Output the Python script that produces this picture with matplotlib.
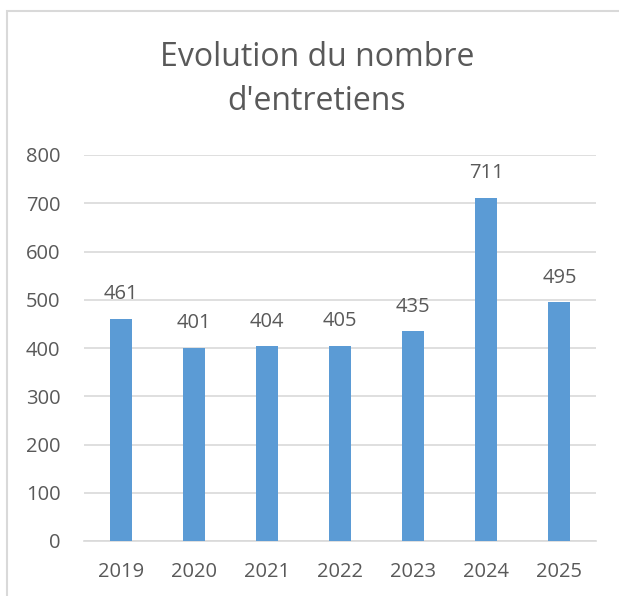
import matplotlib.pyplot as plt
from matplotlib.patches import Rectangle

years = ["2019", "2020", "2021", "2022", "2023", "2024", "2025"]
entretiens = [461, 401, 404, 405, 435, 711, 495]
y_ticks = [0, 100, 200, 300, 400, 500, 600, 700, 800]

plt.rcParams['font.family'] = ['Open Sans', 'DejaVu Sans']
txt = '#595959'

W, H = 619, 596
fig = plt.figure(figsize=(W / 100, H / 100), dpi=100)

# light chart border (only top/left visible in the crop)
fig.patches.append(Rectangle((6.5 / W, -0.1), 1.2, 1 - 10.5 / H + 0.1,
                             transform=fig.transFigure, fill=False,
                             edgecolor='#d9d9d9', linewidth=1.5))

ax = fig.add_axes([84 / W, 1 - 541 / H, (596 - 84) / W, (541 - 155) / H])
x = range(len(years))
bars = ax.bar(x, entretiens, width=0.3, color='#5b9bd5', zorder=3)

for xi, v in zip(x, entretiens):
    ax.text(xi, v + 30, str(v), ha='center', va='bottom', fontsize=14.5, color=txt)

ax.set_xlim(-0.5, len(years) - 0.5)
ax.set_ylim(0, 800)
ax.set_yticks(y_ticks)
ax.set_xticks(list(x))
ax.set_xticklabels(years)
ax.tick_params(axis='both', length=0, labelsize=14.5, colors=txt)
ax.tick_params(axis='y', pad=17)
ax.tick_params(axis='x', pad=15)
ax.yaxis.grid(True, color='#d9d9d9', linewidth=1.2, zorder=0)
for s in ax.spines.values():
    s.set_visible(False)
ax.spines['bottom'].set_visible(True)
ax.spines['bottom'].set_color('#d9d9d9')
ax.spines['bottom'].set_linewidth(1.2)

fig.text(317 / W, 1 - 57 / H, "Evolution du nombre", ha='center', va='center',
         fontsize=23, color=txt)
fig.text(317 / W, 1 - 101 / H, "d'entretiens", ha='center', va='center',
         fontsize=23, color=txt)

fig.savefig('out.png', dpi=100)
